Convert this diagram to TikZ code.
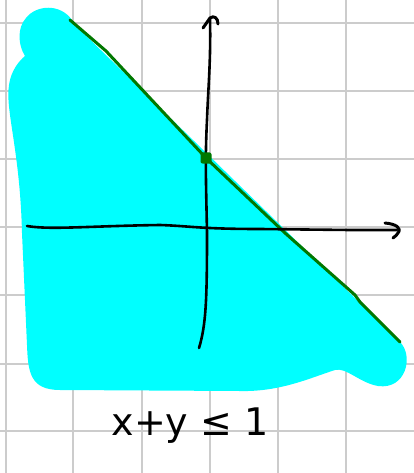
\documentclass[tikz,border=0pt]{standalone}
\usepackage{fontspec}
\newfontfamily\handfont{DejaVu Sans}
\definecolor{gridgray}{RGB}{204,204,204}
\definecolor{fillcyan}{RGB}{0,255,255}
\definecolor{linegreen}{RGB}{0,120,0}
\begin{document}
\begin{tikzpicture}[x=1pt,y=-1pt,
  gridline/.style={draw=gridgray,line width=2.2pt},
  axisline/.style={draw=black,line width=2.6pt,line cap=round,line join=round},
  boundline/.style={draw=linegreen,line width=3pt,line cap=round,line join=round},
  labeltext/.style={font=\handfont\fontsize{38}{42}\selectfont,inner sep=0pt}]
\useasboundingbox (0,0) rectangle (414,473);
\fill[white] (0,0) rectangle (414,473);
% grid
\foreach \gx in {6,73,142,210,278,346}
  \draw[gridline] (\gx,0) -- (\gx,473);
\foreach \gy in {23,91,159,227,295,364,431}
  \draw[gridline] (0,\gy) -- (414,\gy);
% shaded region
\fill[fillcyan] (70,20) -- (400,342)
  .. controls (414,356) and (406,390) .. (378,386)
  .. controls (360,383) and (346,367) .. (335,370)
  .. controls (310,378) and (280,392) .. (240,391)
  -- (60,390)
  .. controls (30,390) and (28,372) .. (27,345)
  -- (22,233)
  .. controls (20,150) and (5,110) .. (9,85)
  .. controls (11,70) and (20,60) .. (25,56)
  .. controls (18,45) and (17,28) .. (26,18)
  .. controls (36,5) and (60,3) .. (72,20) -- cycle;
% boundary line
\coordinate (gA) at (70,20);
\coordinate (gB) at (400,342);
\draw[boundline] (gA) -- (106,51) -- (206,158) -- (285,233) -- (355,295) -- (360,302) -- (gB);
% axes
\coordinate (yB) at (199,348);
\coordinate (yT) at (210,18);
\draw[axisline] (yB) .. controls (206,325) and (207,300) .. (207,233)
  .. controls (206,180) and (205,160) .. (207,120)
  .. controls (208,90) and (211,60) .. (yT);
\draw[axisline,line width=3pt] (203,28) -- (yT) .. controls (214,15) and (218,18) .. (218,24);
\coordinate (xL) at (27,226);
\coordinate (xR) at (397,230);
\draw[axisline] (xL) .. controls (50,230) and (90,226) .. (160,225)
  .. controls (190,226) and (200,229) .. (260,229)
  -- (350,230) -- (xR);
\draw[axisline,line width=3pt] (385,223) .. controls (396,224) and (402,228) .. (398,233) .. controls (396,236) and (394,237) .. (393,238);
% point
\node[fill=linegreen,minimum size=11pt,inner sep=0pt,rounded corners=2pt] (pt) at (206,158) {};
% label
\node[labeltext] (lbl) at (190,426) {x+y ≤ 1};
\end{tikzpicture}
\end{document}
